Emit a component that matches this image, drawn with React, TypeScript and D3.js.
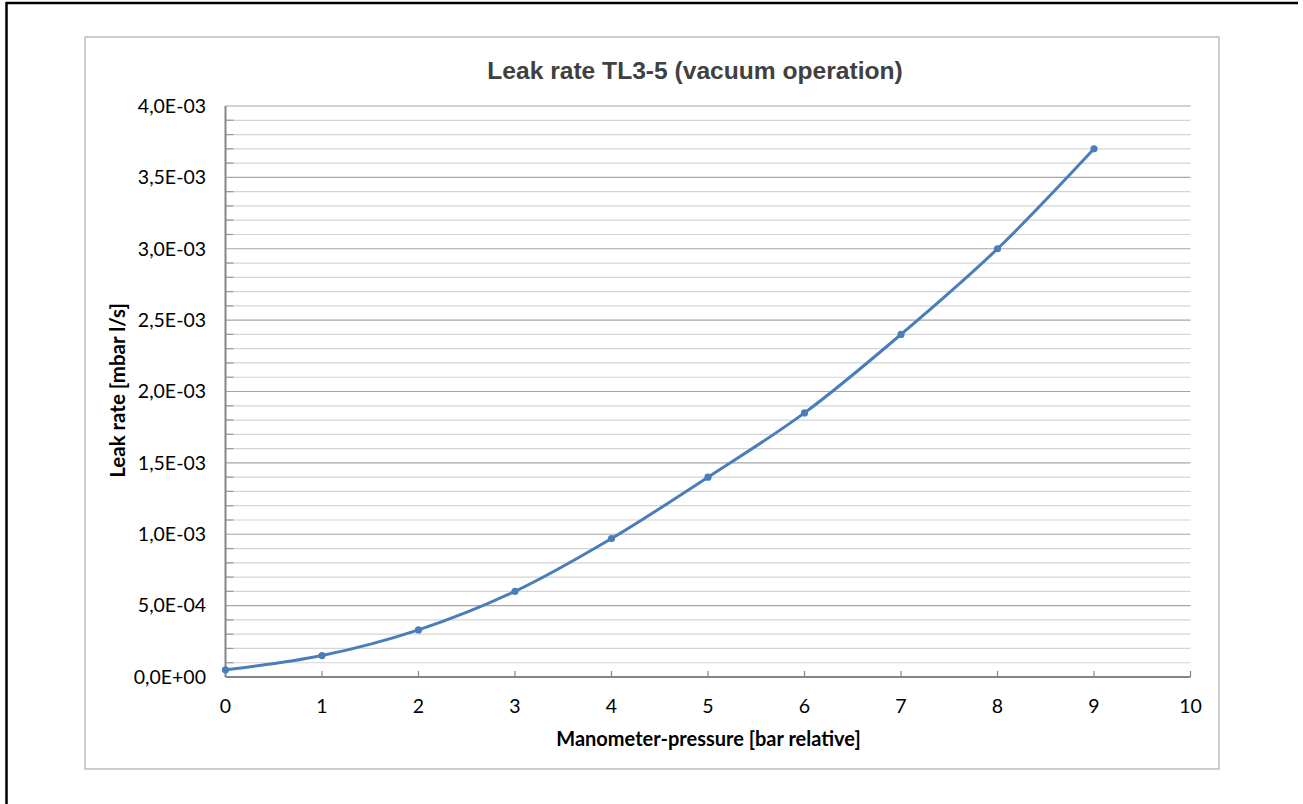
import React, { useEffect, useRef } from 'react';
import * as d3 from 'd3';

// pressure [bar relative]
const pressure = [0, 1, 2, 3, 4, 5, 6, 7, 8, 9];
// leak rate [mbar l/s]
const leakRate = [5e-5, 1.5e-4, 3.3e-4, 6.0e-4, 9.7e-4, 1.4e-3, 1.85e-3, 2.4e-3, 3.0e-3, 3.7e-3];
const xTicks = [0, 1, 2, 3, 4, 5, 6, 7, 8, 9, 10];
const yMajorTicks = [0, 5e-4, 1e-3, 1.5e-3, 2e-3, 2.5e-3, 3e-3, 3.5e-3, 4e-3];

const W = 1303;
const H = 804;
const plot = { left: 225.5, right: 1190.5, top: 106, bottom: 677 };
const axisFont = 'Lato, "Noto Sans", sans-serif';

const fmtY = (v: number) => {
  const s = v.toExponential(1).replace('.', ',');
  // 4.0e-3 -> 4,0E-03
  return s.replace(/e([+-])(\d+)/, (_, sign, d) => 'E' + sign + d.padStart(2, '0'));
};

const App = () => {
  const svgRef = useRef<SVGSVGElement>(null);

  useEffect(() => {
    const svg = d3.select(svgRef.current);
    svg.selectAll('*').remove();

    const x = d3.scaleLinear().domain([0, 10]).range([plot.left, plot.right]);
    const y = d3.scaleLinear().domain([0, 4e-3]).range([plot.bottom, plot.top]);

    // page frame (top and left edges)
    svg.append('line').attr('x1', 6).attr('x2', 1298).attr('y1', 3).attr('y2', 3)
      .attr('stroke', '#000').attr('stroke-width', 2.5);
    svg.append('line').attr('x1', 6.5).attr('x2', 6.5).attr('y1', 2).attr('y2', H)
      .attr('stroke', '#000').attr('stroke-width', 2.5);

    // chart area border
    svg.append('rect').attr('x', 85).attr('y', 37).attr('width', 1134).attr('height', 732)
      .attr('fill', '#fff').attr('stroke', '#b3b3b3').attr('stroke-width', 1.3);

    // minor gridlines
    const minor = d3.range(1, 40).map(i => i * 1e-4).filter(v => Math.round(v * 1e4) % 5 !== 0);
    svg.append('g').selectAll('line').data(minor).join('line')
      .attr('x1', plot.left).attr('x2', plot.right)
      .attr('y1', d => y(d)).attr('y2', d => y(d))
      .attr('stroke', '#d4d4d4').attr('stroke-width', 1.2);

    // major gridlines
    svg.append('g').selectAll('line').data(yMajorTicks.slice(1)).join('line')
      .attr('x1', plot.left).attr('x2', plot.right)
      .attr('y1', d => y(d)).attr('y2', d => y(d))
      .attr('stroke', '#a6a6a6').attr('stroke-width', 1.2);

    // minor ticks on y axis (inside)
    svg.append('g').selectAll('line').data(minor).join('line')
      .attr('x1', plot.left).attr('x2', plot.left + 8)
      .attr('y1', d => y(d)).attr('y2', d => y(d))
      .attr('stroke', '#9a9a9a').attr('stroke-width', 1.2);

    // x ticks (inside)
    svg.append('g').selectAll('line').data(xTicks).join('line')
      .attr('x1', d => x(d)).attr('x2', d => x(d))
      .attr('y1', plot.bottom).attr('y2', plot.bottom - 6)
      .attr('stroke', '#868686').attr('stroke-width', 1.2);

    // axes lines
    svg.append('line').attr('x1', plot.left).attr('x2', plot.left)
      .attr('y1', plot.top).attr('y2', plot.bottom)
      .attr('stroke', '#868686').attr('stroke-width', 2);
    svg.append('line').attr('x1', plot.left).attr('x2', plot.right)
      .attr('y1', plot.bottom).attr('y2', plot.bottom)
      .attr('stroke', '#868686').attr('stroke-width', 2);

    // y tick labels
    svg.append('g').selectAll('text').data(yMajorTicks).join('text')
      .attr('x', 206).attr('y', d => y(d)).attr('dy', '0.35em')
      .attr('text-anchor', 'end')
      .attr('font-family', axisFont).attr('font-size', 19.5).attr('fill', '#000')
      .text(d => fmtY(d));

    // x tick labels
    svg.append('g').selectAll('text').data(xTicks).join('text')
      .attr('x', d => x(d)).attr('y', 713)
      .attr('text-anchor', 'middle')
      .attr('font-family', axisFont).attr('font-size', 19.5).attr('fill', '#000')
      .text(d => String(d));

    // series
    const pts = pressure.map((p, i) => [p, leakRate[i]] as [number, number]);
    const line = d3.line<[number, number]>()
      .x(d => x(d[0])).y(d => y(d[1]))
      .curve(d3.curveCatmullRom.alpha(0.5));
    svg.append('path').datum(pts)
      .attr('d', line)
      .attr('fill', 'none').attr('stroke', '#4a7ebb').attr('stroke-width', 3)
      .attr('stroke-linejoin', 'round');
    svg.append('g').selectAll('circle').data(pts).join('circle')
      .attr('cx', d => x(d[0])).attr('cy', d => y(d[1])).attr('r', 3.6)
      .attr('fill', '#4a7ebb');

    // titles
    svg.append('text').attr('x', 695).attr('y', 79)
      .attr('text-anchor', 'middle')
      .attr('font-family', '"Liberation Sans", Arial, sans-serif')
      .attr('font-weight', 'bold').attr('font-size', 24.6).attr('fill', '#404040')
      .text('Leak rate TL3-5 (vacuum operation)');

    svg.append('text').attr('x', 708.5).attr('y', 746)
      .attr('text-anchor', 'middle')
      .attr('font-family', axisFont).attr('font-weight', 'bold').attr('font-size', 20)
      .attr('fill', '#000')
      .text('Manometer-pressure [bar relative]');

    svg.append('text')
      .attr('transform', `translate(125, ${(plot.top + plot.bottom) / 2 - 1}) rotate(-90)`)
      .attr('text-anchor', 'middle')
      .attr('font-family', axisFont).attr('font-weight', 'bold').attr('font-size', 20.5)
      .attr('fill', '#000')
      .text('Leak rate [mbar l/s]');
  }, []);

  return (
    <svg ref={svgRef} width={W} height={H}
      style={{ position: 'absolute', left: 0, top: 0, background: '#fff' }} />
  );
};

export default App;
